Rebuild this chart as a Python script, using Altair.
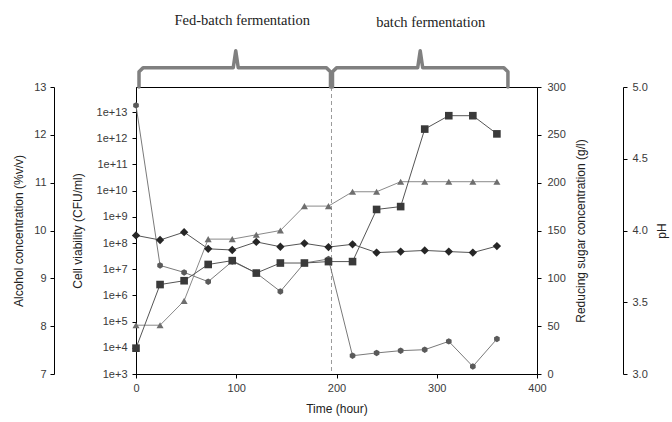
import altair as alt
import pandas as pd

# ---- data ----
times = [0, 24, 48, 72, 96, 120, 144, 168, 192, 216, 240, 264, 288, 312, 336, 360]
alcohol = [7.54, 8.87, 8.95, 9.29, 9.37, 9.11, 9.32, 9.32, 9.35, 9.35, 10.44, 10.50, 12.12, 12.40, 12.40, 12.02]
cell = [1.95e8, 1.3e8, 2.6e8, 6.0e7, 5.4e7, 1.1e8, 7.2e7, 9.7e7, 7.0e7, 8.9e7, 4.3e7, 4.7e7, 5.2e7, 4.7e7, 4.3e7, 7.6e7]
sugar = [280.8, 113.5, 106.2, 96.5, 117.7, 105.6, 86.3, 116.0, 120.2, 19.1, 22.0, 24.4, 25.4, 34.1, 7.9, 36.6]
ph = [3.34, 3.34, 3.51, 3.94, 3.94, 3.97, 4.00, 4.17, 4.17, 4.27, 4.27, 4.34, 4.34, 4.34, 4.34, 4.34]

phase_change = [195]

# phase brackets (time in hours, height in sugar-scale units above the plot)
brace_group = ["fed"] * 9 + ["batch"] * 9
brace_order = list(range(18))
brace_x = [3, 3, 7, 97, 99.5, 102, 190, 194, 194,
           196, 196, 200, 281, 283.5, 286, 367, 371, 371]
brace_y = [300, 316, 320, 320, 338, 320, 320, 316, 300,
           300, 316, 320, 320, 338, 320, 320, 316, 300]

phase_labels = ["Fed-batch fermentation", "batch fermentation"]
phase_label_x = [106, 294]
phase_label_y = [369, 367]

FONT = "Liberation Sans"

df = pd.DataFrame({"time": times, "alcohol": alcohol, "cell": cell, "sugar": sugar, "ph": ph})
braces = pd.DataFrame({"g": brace_group, "o": brace_order, "x": brace_x, "y": brace_y})
labels = pd.DataFrame({"t": phase_labels, "x": phase_label_x, "y": phase_label_y})
rule_df = pd.DataFrame({"x": phase_change})

xenc = alt.X("time:Q", scale=alt.Scale(domain=[0, 400], nice=False),
             axis=alt.Axis(values=[0, 100, 200, 300, 400], title="Time (hour)", titlePadding=10,
                           labelPadding=4, labelFlush=False))

def yaxis(title, orient, offset, values, fmt=None, label_expr=None, title_pad=8, label_pad=4, angle=None):
    kw = dict(title=title, orient=orient, offset=offset, values=values, titlePadding=title_pad,
              labelPadding=label_pad, labelFlush=False)
    if fmt:
        kw["format"] = fmt
    if label_expr:
        kw["labelExpr"] = label_expr
    if angle is not None:
        kw["titleAngle"] = angle
    return alt.Axis(**kw)

base = alt.Chart(df)

sugar_layer = base.mark_line(color="#7a7a7a", strokeWidth=1,
                             point=alt.OverlayMarkDef(shape="M0,-1L0.87,-0.5L0.87,0.5L0,1L-0.87,0.5L-0.87,-0.5Z",
                                                      size=42, filled=True, color="#5a5a5a")).encode(
    x=xenc,
    y=alt.Y("sugar:Q", scale=alt.Scale(domain=[0, 300], nice=False),
            axis=yaxis("Reducing sugar concentration (g/l)", "right", 0, [0, 50, 100, 150, 200, 250, 300],
                       title_pad=22, label_pad=6, angle=270)),
)

ph_layer = base.mark_line(color="#8a8a8a", strokeWidth=1,
                          point=alt.OverlayMarkDef(shape="triangle-up", size=50, filled=True, color="#6e6e6e")).encode(
    x=xenc,
    y=alt.Y("ph:Q", scale=alt.Scale(domain=[3, 5], nice=False),
            axis=yaxis("pH", "right", 86, [3.0, 3.5, 4.0, 4.5, 5.0], fmt=".1f",
                       title_pad=21, label_pad=5, angle=270)),
)

cell_layer = base.mark_line(color="#555555", strokeWidth=1,
                            point=alt.OverlayMarkDef(shape="diamond", size=70, filled=True, color="#262626")).encode(
    x=xenc,
    y=alt.Y("cell:Q", scale=alt.Scale(type="log", domain=[1e3, 9e13], nice=False),
            axis=yaxis("Cell viability (CFU/ml)", "left", 0,
                       [1e3, 1e4, 1e5, 1e6, 1e7, 1e8, 1e9, 1e10, 1e11, 1e12, 1e13],
                       label_expr="'1e+' + round(log(datum.value)/LN10)", title_pad=12, label_pad=5)),
)

alc_layer = base.mark_line(color="#555555", strokeWidth=1,
                           point=alt.OverlayMarkDef(shape="square", size=58, filled=True, color="#3a3a3a")).encode(
    x=xenc,
    y=alt.Y("alcohol:Q", scale=alt.Scale(domain=[7, 13], nice=False),
            axis=yaxis("Alcohol concentration (%v/v)", "left", 82, [7, 8, 9, 10, 11, 12, 13],
                       title_pad=8, label_pad=4)),
)

rule = alt.Chart(rule_df).mark_rule(color="#9a9a9a", strokeDash=[4, 3], strokeWidth=1).encode(
    x=alt.X("x:Q", scale=alt.Scale(domain=[0, 400], nice=False))
)

brace_layer = alt.Chart(braces).mark_line(color="#808080", strokeWidth=3.5, strokeJoin="round",
                                          strokeCap="round", clip=False).encode(
    x=alt.X("x:Q", scale=alt.Scale(domain=[0, 400], nice=False)),
    y=alt.Y("y:Q", scale=alt.Scale(domain=[0, 300], nice=False), axis=None),
    detail="g:N",
    order="o:Q",
)

label_layer = alt.Chart(labels).mark_text(font="Liberation Serif", fontSize=14.5, color="#222222",
                                          clip=False).encode(
    x=alt.X("x:Q", scale=alt.Scale(domain=[0, 400], nice=False)),
    y=alt.Y("y:Q", scale=alt.Scale(domain=[0, 300], nice=False), axis=None),
    text="t:N",
)

chart = alt.layer(
    rule, sugar_layer, ph_layer, cell_layer, alc_layer, brace_layer, label_layer
).resolve_scale(y="independent").properties(
    width=401, height=287,
    autosize=alt.AutoSizeParams(type="none"),
    padding={"left": 136, "top": 87, "right": 135, "bottom": 48},
).configure_view(
    stroke="#000000", strokeWidth=1
).configure_axis(
    grid=False, domainColor="#000000", tickColor="#000000", tickSize=4,
    labelFont=FONT, labelFontSize=11, labelColor="#3a3a3a",
    titleFont=FONT, titleFontSize=12, titleFontWeight="normal", titleColor="#222222",
)

chart.save("out.html", embed_options={"renderer": "svg", "actions": False})
